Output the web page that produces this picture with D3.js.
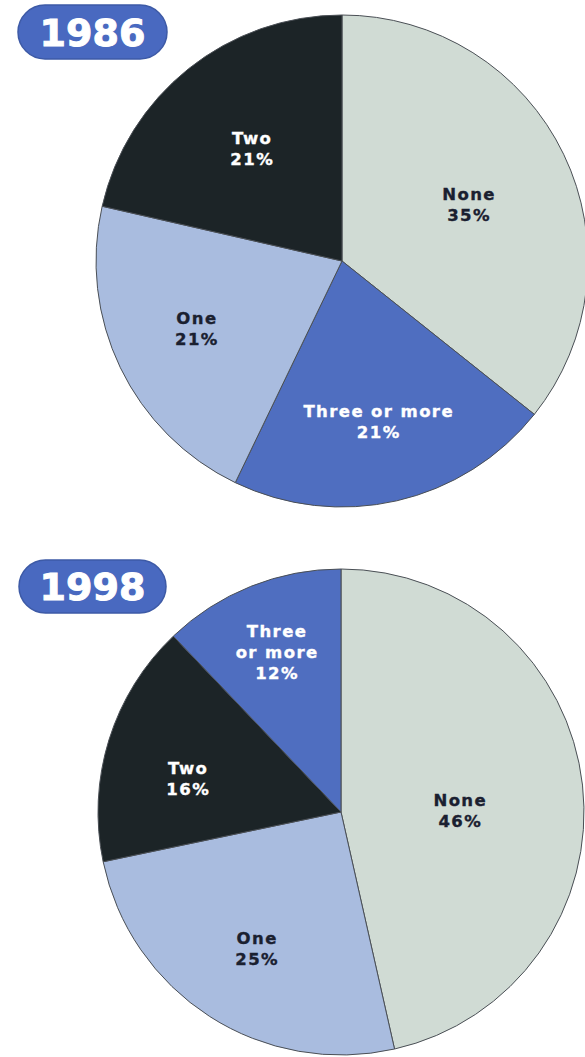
<!DOCTYPE html>
<html>
<head>
<meta charset="utf-8">
<script src="https://cdn.jsdelivr.net/npm/d3@7"></script>
<style>
  body { margin: 0; background: #fff; }
  svg { display: block; }
</style>
</head>
<body>
<div id="chart"></div>
<script>
// values (percent of households)
var years = ["1986", "1998"];

var cats1986 = ["None", "Three or more", "One", "Two"];
var vals1986 = [35, 21, 21, 21];

var cats1998 = ["None", "One", "Two", "Three or more"];
var vals1998 = [46, 25, 16, 12];

// label text lines (1998 wraps the long one)
var lines1986 = [["None"], ["Three or more"], ["One"], ["Two"]];
var lines1998 = [["None"], ["One"], ["Two"], ["Three", "or more"]];

var color = d3.scaleOrdinal()
  .domain(["None", "One", "Two", "Three or more"])
  .range(["#d0dbd4", "#a9bcdf", "#1c2427", "#4f6ec0"]);

var textColor = d3.scaleOrdinal()
  .domain(["None", "One", "Two", "Three or more"])
  .range(["#1a2030", "#1a2030", "#ffffff", "#ffffff"]);

var width = 585, height = 1057;

var svg = d3.select("#chart").append("svg")
  .attr("width", width)
  .attr("height", height);

// layout for each pie: centre, radius, badge, label distance + small vertical nudge per slice
var layout = {
  "1986": { cx: 342, cy: 261, r: 246, badge: { x: 18, y: 5, w: 149, h: 54 },
            labelR: [141, 165, 161, 144], labelDy: [5, 0, -2, 0] },
  "1998": { cx: 341, cy: 812, r: 243, badge: { x: 19, y: 560, w: 147, h: 53 },
            labelR: [120, 155, 160, 172], labelDy: [12, 6, 14, 0] }
};

var pie = d3.pie().sort(null).value(function(d) { return d.value; });

function drawPie(year, cats, vals, lines) {
  var L = layout[year];
  var data = cats.map(function(c, i) {
    return { name: c, value: vals[i], lines: lines[i], lr: L.labelR[i], ldy: L.labelDy[i] };
  });

  var g = svg.append("g")
    .attr("transform", "translate(" + L.cx + "," + L.cy + ")");

  var arc = d3.arc().innerRadius(0).outerRadius(L.r);

  var arcs = pie(data);

  g.selectAll("path")
    .data(arcs)
    .enter().append("path")
      .attr("d", arc)
      .attr("fill", function(d) { return color(d.data.name); })
      .attr("stroke", "#4a4f55")
      .attr("stroke-width", 1);

  var labels = g.selectAll("text.lbl")
    .data(arcs)
    .enter().append("text")
      .attr("class", "lbl")
      .attr("transform", function(d) {
        var a = d3.arc().innerRadius(d.data.lr).outerRadius(d.data.lr);
        var c = a.centroid(d);
        return "translate(" + c[0] + "," + (c[1] + d.data.ldy) + ")";
      })
      .attr("text-anchor", "middle")
      .attr("font-family", "'DejaVu Sans', sans-serif")
      .attr("font-weight", "bold")
      .attr("font-size", 16.5)
      .attr("letter-spacing", 1.4)
      .attr("fill", function(d) { return textColor(d.data.name); })
      .attr("stroke", function(d) { return textColor(d.data.name); })
      .attr("stroke-width", 0.35);

  labels.each(function(d) {
    var allLines = d.data.lines.concat([d.data.value + "%"]);
    var lh = 21;
    var top = -(allLines.length - 1) * lh / 2;
    var t = d3.select(this);
    allLines.forEach(function(s, i) {
      t.append("tspan")
        .attr("x", 0)
        .attr("y", top + i * lh)
        .attr("dy", "0.36em")
        .text(s);
    });
  });

  // year badge
  var b = L.badge;
  svg.append("rect")
    .attr("x", b.x).attr("y", b.y)
    .attr("width", b.w).attr("height", b.h)
    .attr("rx", b.h / 2).attr("ry", b.h / 2)
    .attr("fill", "#4969c0")
    .attr("stroke", "#3d5aa6")
    .attr("stroke-width", 1.5);

  svg.append("text")
    .attr("x", b.x + b.w / 2)
    .attr("y", b.y + b.h / 2)
    .attr("dy", "0.36em")
    .attr("text-anchor", "middle")
    .attr("font-family", "'DejaVu Sans', sans-serif")
    .attr("font-weight", "bold")
    .attr("font-size", 38)
    .attr("fill", "#ffffff")
    .attr("stroke", "#ffffff")
    .attr("stroke-width", 1)
    .text(year);
}

drawPie(years[0], cats1986, vals1986, lines1986);
drawPie(years[1], cats1998, vals1998, lines1998);
</script>
</body>
</html>
